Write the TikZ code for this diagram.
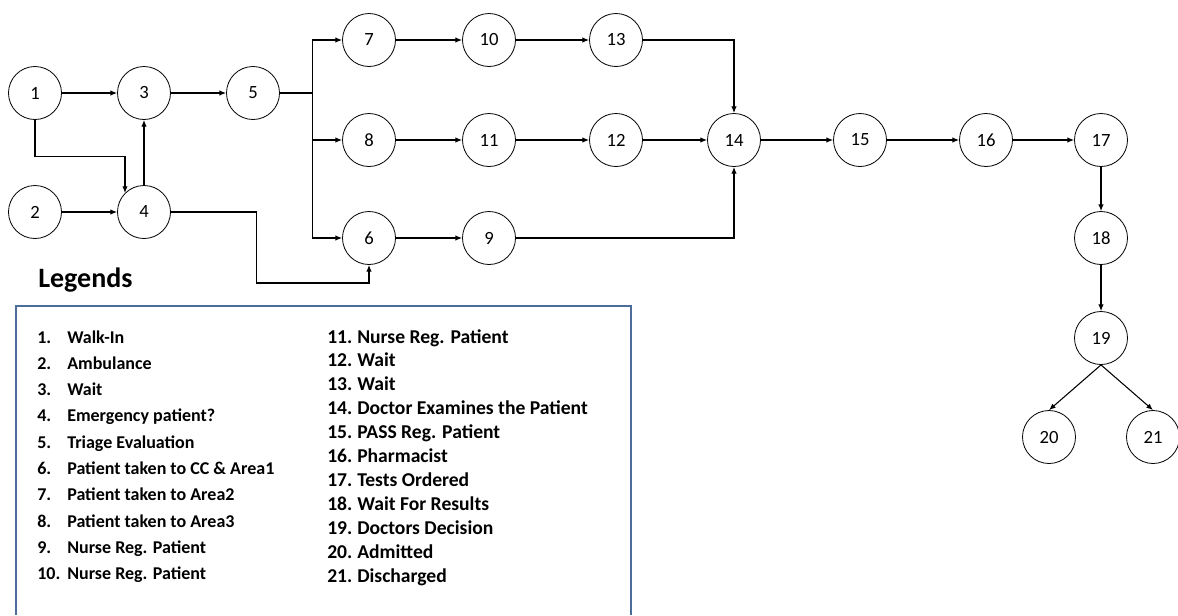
\documentclass[tikz,border=0pt]{standalone}
\usepackage{fontspec}
\setmainfont{Carlito}
\usetikzlibrary{arrows.meta}
\definecolor{boxblue}{HTML}{4C6C9A}
\begin{document}
\begin{tikzpicture}[x=0.75pt,y=-0.75pt,
       state/.style={circle,draw,line width=0.6pt,minimum size=39.75pt,inner sep=0pt,font=\fontsize{14}{16}\selectfont},
       flow/.style={-{Latex[length=5pt,width=4pt]},line width=0.8pt},
       item/.style={anchor=base west,inner sep=0pt,font=\bfseries\fontsize{13.5}{16}\selectfont},
       itemr/.style={item,font=\bfseries\fontsize{14.7}{17}\selectfont}]
   \useasboundingbox (0,0) rectangle (1178,615);
   % states
   \node [state] (s1) at (35,93) {1};
   \node [state] (s3) at (144,93) {3};
   \node [state] (s5) at (253,93) {5};
   \node [state] (s2) at (35,212) {2};
   \node [state] (s4) at (144,212) {4};
   \node [state] (s7) at (369,40) {7};
   \node [state] (s10) at (489,40) {10};
   \node [state] (s13) at (616,40) {13};
   \node [state] (s8) at (369,140) {8};
   \node [state] (s11) at (489,140) {11};
   \node [state] (s12) at (616,140) {12};
   \node [state] (s14) at (734,140) {14};
   \node [state] (s15) at (860,140) {15};
   \node [state] (s16) at (986,140) {16};
   \node [state] (s17) at (1101,140) {17};
   \node [state] (s6) at (369,238) {6};
   \node [state] (s9) at (489,238) {9};
   \node [state] (s18) at (1101,238) {18};
   \node [state] (s19) at (1101,338) {19};
   \node [state] (s20) at (1049,437) {20};
   \node [state] (s21) at (1153,437) {21};
   % flows
   \draw [flow] (s1) -- (s3);
   \draw [flow] (s3) -- (s5);
   \draw [flow] (s2) -- (s4);
   \draw [flow] (s4) -- (s3);
   \draw [flow] (s1.south) -- ++(0,36.5) -| (s4.north west);
   \draw [flow] (s4.east) -- ++(86,0) -- ++(0,71) -| (s6.south);
   \draw [line width=0.8pt] (s5.east) -- ++(32.5,0) coordinate (fork);
   \draw [flow] (fork) |- (s7);
   \draw [flow] (fork) |- (s8);
   \draw [flow] (fork) |- (s6);
   \draw [flow] (s7) -- (s10);
   \draw [flow] (s10) -- (s13);
   \draw [flow] (s8) -- (s11);
   \draw [flow] (s11) -- (s12);
   \draw [flow] (s12) -- (s14);
   \draw [flow] (s6) -- (s9);
   \draw [flow] (s13) -| (s14);
   \draw [flow] (s9) -| (s14);
   \draw [flow] (s14) -- (s15);
   \draw [flow] (s15) -- (s16);
   \draw [flow] (s16) -- (s17);
   \draw [flow] (s17) -- (s18);
   \draw [flow] (s18) -- (s19);
   \draw [flow] (s19.south) -- (s20.north);
   \draw [flow] (s19.south) -- (s21.north);
   % legend
   \node [anchor=base west,inner sep=0pt,font=\bfseries\fontsize{21}{24}\selectfont] (legtitle) at (38,287) {Legends};
   \draw [boxblue,line width=2pt] (16,615) |- (631,306) -- (631,615);
   \foreach \n/\t [count=\k from 0] in {1/Walk-In,2/Ambulance,3/Wait,4/Emergency patient?,5/Triage Evaluation,
       6/Patient taken to CC \& Area1,7/Patient taken to Area2,8/Patient taken to Area3,9/Nurse Reg. Patient,10/Nurse Reg. Patient}{
     \node [item] (n\n) at (37,343+26.3*\k) {\n.};
     \node [item] (t\n) at (67,343+26.3*\k) {\t};
   }
   \foreach \n/\t [count=\k from 0] in {11/Nurse Reg. Patient,12/Wait,13/Wait,14/Doctor Examines the Patient,15/PASS Reg. Patient,
       16/Pharmacist,17/Tests Ordered,18/Wait For Results,19/Doctors Decision,20/Admitted,21/Discharged}{
     \node [itemr] (n\n) at (327,343+23.9*\k) {\n.};
     \node [itemr] (t\n) at (357,343+23.9*\k) {\t};
   }
\end{tikzpicture}
\end{document}
